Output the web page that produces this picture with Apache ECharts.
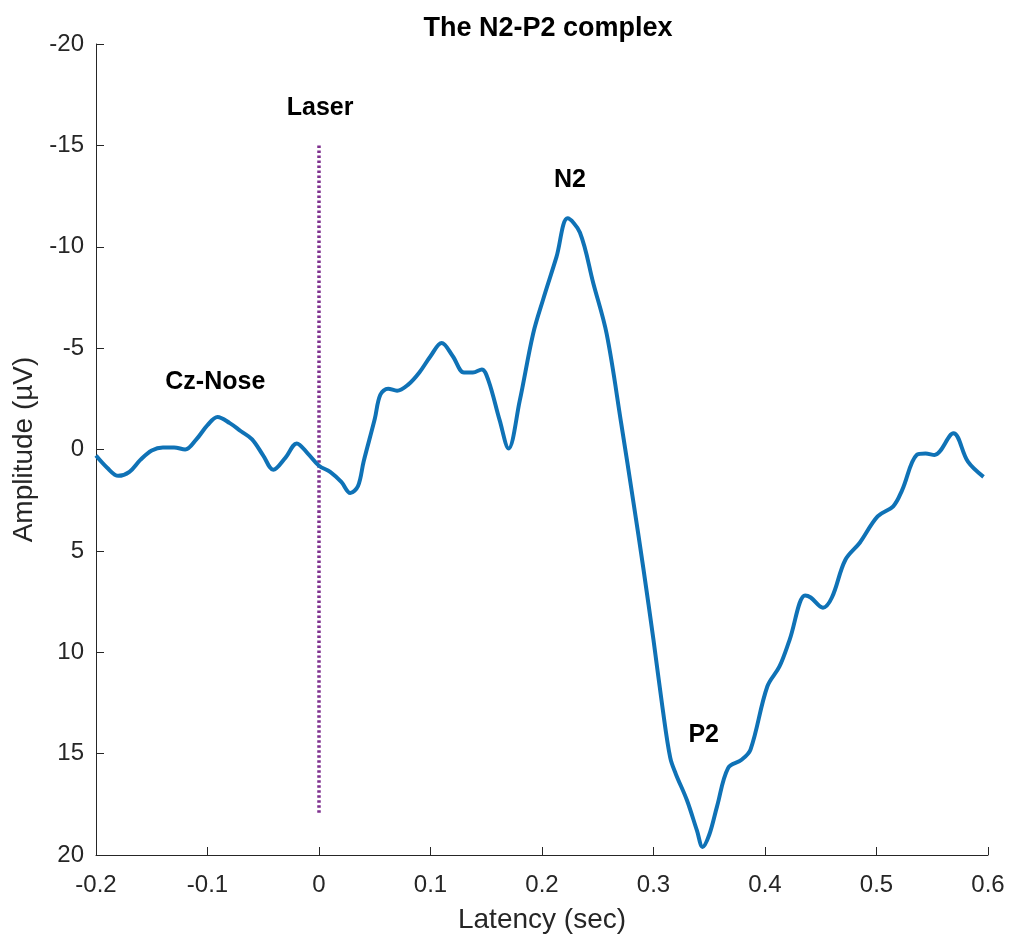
<!DOCTYPE html>
<html>
<head>
<meta charset="utf-8">
<script src="https://cdn.jsdelivr.net/npm/echarts@6/dist/echarts.min.js"></script>
<style>html,body{margin:0;padding:0;background:#fff}#c{width:1012px;height:945px}</style>
</head>
<body>
<div id="c"></div>
<script>
const latency = [-0.200,-0.190,-0.180,-0.170,-0.160,-0.150,-0.140,-0.130,-0.120,-0.110,-0.100,-0.091,-0.080,-0.070,-0.060,-0.050,-0.041,-0.030,-0.020,-0.010,0.000,0.010,0.020,0.028,0.035,0.040,0.050,0.055,0.062,0.070,0.080,0.090,0.100,0.110,0.120,0.130,0.138,0.146,0.152,0.162,0.170,0.180,0.192,0.201,0.213,0.223,0.234,0.246,0.258,0.271,0.282,0.291,0.300,0.308,0.315,0.320,0.330,0.339,0.344,0.350,0.357,0.367,0.379,0.387,0.402,0.413,0.422,0.436,0.441,0.452,0.460,0.472,0.485,0.501,0.515,0.523,0.536,0.544,0.552,0.569,0.582,0.596];
const amplitude = [0.3,0.9,1.3,1.1,0.5,0.05,-0.1,-0.1,0.0,-0.5,-1.2,-1.6,-1.3,-0.9,-0.5,0.3,1.0,0.4,-0.3,0.2,0.8,1.1,1.6,2.15,1.8,0.6,-1.5,-2.7,-3.0,-2.9,-3.2,-3.8,-4.6,-5.25,-4.6,-3.8,-3.8,-3.95,-3.4,-1.45,-0.05,-2.4,-5.7,-7.4,-9.5,-11.4,-10.7,-8.2,-5.7,-1.3,2.6,5.9,9.4,12.7,15.2,16.0,17.3,18.8,19.6,19.0,17.6,15.7,15.3,14.8,11.7,10.7,9.4,7.2,7.3,7.8,7.3,5.45,4.6,3.3,2.8,2.0,0.27,0.2,0.27,-0.8,0.6,1.35];
const laserLatency = [0, 0];
const laserAmplitude = [-15, 18];
const annoText = ['Laser','N2','Cz-Nose','P2'];
const annoLatency = [0.001, 0.225, -0.093, 0.345];
const annoAmplitude = [-16.85, -13.3, -3.3, 14.1];
const xTicks = [-0.2,-0.1,0,0.1,0.2,0.3,0.4,0.5,0.6];
const yTicks = [-20,-15,-10,-5,0,5,10,15,20];

const chart = echarts.init(document.getElementById('c'));
const font = 'Liberation Sans, Arial, sans-serif';
chart.setOption({
  animation: false,
  backgroundColor: '#fff',
  title: {
    text: 'The N2-P2 complex', left: 543, top: 10, textAlign: 'center',
    textStyle: {fontFamily: font, fontSize: 27, fontWeight: 'bold', color: '#000'}
  },
  grid: {left: 96, right: 24, top: 44, bottom: 90},
  xAxis: {
    type: 'value', min: -0.2, max: 0.6, interval: 0.1,
    name: 'Latency (sec)', nameLocation: 'middle', nameGap: 51,
    nameTextStyle: {fontFamily: font, fontSize: 28, color: '#262626'},
    axisLine: {show: true, onZero: false, lineStyle: {color: '#262626', width: 1}},
    axisTick: {show: true, inside: true, length: 8, lineStyle: {color: '#262626'}},
    axisLabel: {fontFamily: font, fontSize: 24, color: '#262626', margin: 18,
      formatter: v => String(Math.round(v * 10) / 10)},
    splitLine: {show: false}
  },
  yAxis: {
    type: 'value', min: -20, max: 20, interval: 5, inverse: true,
    name: 'Amplitude (µV)', nameLocation: 'middle', nameGap: 54, nameRotate: 90,
    nameTextStyle: {fontFamily: font, fontSize: 28, color: '#262626'},
    axisLine: {show: true, onZero: false, lineStyle: {color: '#262626', width: 1}},
    axisTick: {show: true, inside: true, length: 8, lineStyle: {color: '#262626'}},
    axisLabel: {fontFamily: font, fontSize: 24, color: '#262626', margin: 12},
    splitLine: {show: false}
  },
  series: [
    {
      type: 'line', data: latency.map((t, i) => [t, amplitude[i]]),
      smooth: 0.35, showSymbol: false, symbol: 'none',
      lineStyle: {color: '#0f72b6', width: 4}, z: 3
    },
    {
      type: 'line', data: laserLatency.map((t, i) => [t, laserAmplitude[i]]),
      showSymbol: false, symbol: 'none',
      lineStyle: {color: '#7e2f8e', width: 3.5, type: [2.5, 2.5], cap: 'butt'}, z: 2
    },
    {
      type: 'scatter', symbolSize: 0, itemStyle: {opacity: 1},
      data: annoText.map((s, i) => ({value: [annoLatency[i], annoAmplitude[i]], name: s})),
      label: {show: true, position: 'inside', formatter: p => p.name,
        fontFamily: font, fontSize: 25, fontWeight: 'bold', color: '#000', opacity: 1},
      z: 4
    }
  ]
});
</script>
</body>
</html>
